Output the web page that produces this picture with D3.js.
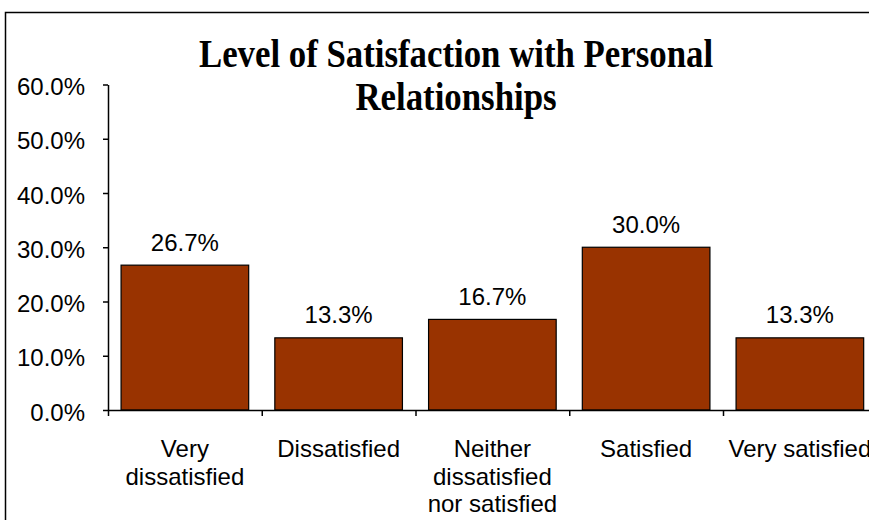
<!DOCTYPE html>
<html>
<head>
<meta charset="utf-8">
<script src="https://cdn.jsdelivr.net/npm/d3@7/dist/d3.min.js"></script>
<style>
  html, body { margin: 0; padding: 0; background: #fff; }
  svg { display: block; }
</style>
</head>
<body>
<svg id="chart" width="869" height="520"></svg>
<script>
const categories = ["Very dissatisfied", "Dissatisfied", "Neither dissatisfied nor satisfied", "Satisfied", "Very satisfied"];
const values = [0.267, 0.133, 0.167, 0.300, 0.133];
const yTicks = [0, 0.1, 0.2, 0.3, 0.4, 0.5, 0.6];
const titleLines = ["Level of Satisfaction with Personal", "Relationships"];

const svg = d3.select("#chart");
const W = 869, H = 520;
const sansFont = "'Liberation Sans', Arial, sans-serif";
const fs = 24;

svg.append("rect").attr("width", W).attr("height", H).attr("fill", "#fff");
// outer frame (extends beyond the right/bottom edges)
svg.append("rect")
  .attr("x", 5.5).attr("y", 12.5).attr("width", 1000).attr("height", 1000)
  .attr("fill", "none").attr("stroke", "#000").attr("stroke-width", 1.5);

const x = d3.scaleBand().domain(categories).range([108, 876.75])
  .paddingInner(0.17).paddingOuter(0.085);
const y = d3.scaleLinear().domain([0, 0.6]).range([410, 84.5]);

// title
const title = svg.append("g").attr("transform", "translate(456,0) scale(0.87,1)");
titleLines.forEach((t, i) => {
  title.append("text")
    .attr("x", 0).attr("y", 67 + i * 43)
    .attr("text-anchor", "middle")
    .attr("font-family", "'Liberation Serif', 'Times New Roman', serif")
    .attr("font-weight", "bold")
    .attr("font-size", 40)
    .attr("fill", "#000")
    .text(t);
});

// bars
svg.append("g").selectAll("rect").data(categories).join("rect")
  .attr("x", d => x(d))
  .attr("y", (d, i) => y(values[i]))
  .attr("width", x.bandwidth())
  .attr("height", (d, i) => y(0) - y(values[i]))
  .attr("fill", "#993300")
  .attr("stroke", "#000")
  .attr("stroke-width", 1.2);

// value labels
svg.append("g").selectAll("text").data(categories).join("text")
  .attr("x", d => x(d) + x.bandwidth() / 2)
  .attr("y", (d, i) => y(values[i]) - 14.5)
  .attr("text-anchor", "middle")
  .attr("font-family", sansFont)
  .attr("font-size", fs)
  .attr("fill", "#000")
  .text((d, i) => d3.format(".1%")(values[i]));

// y axis
const yAxis = d3.axisLeft(y).tickValues(yTicks).tickFormat(d3.format(".1%"))
  .tickSize(5).tickSizeOuter(0).tickPadding(18);
const gy = svg.append("g").attr("transform", "translate(108,0)").call(yAxis);
gy.selectAll("path, line").attr("stroke", "#000").attr("stroke-width", 1.5);
gy.selectAll("text")
  .attr("font-family", sansFont).attr("font-size", fs).attr("fill", "#000")
  .attr("dy", null).attr("dominant-baseline", null)
  .attr("y", 10);

// x axis (ticks at category boundaries)
const step = x.step();
const xb = d3.scaleLinear().domain([0, categories.length]).range([108, 108 + step * categories.length]);
const xAxis = d3.axisBottom(xb).tickValues(d3.range(categories.length + 1)).tickFormat("")
  .tickSize(6).tickSizeOuter(0);
const gx = svg.append("g").attr("transform", "translate(0,410)").call(xAxis);
gx.selectAll("path, line").attr("stroke", "#000").attr("stroke-width", 1.5);

// category labels with wrapping
const ctx = document.createElement("canvas").getContext("2d");
ctx.font = fs + "px 'Liberation Sans', Arial, sans-serif";
function wrap(str, maxW) {
  const words = str.split(" ");
  const lines = [];
  let cur = "";
  words.forEach(w => {
    const t = cur ? cur + " " + w : w;
    if (ctx.measureText(t).width > maxW && cur) { lines.push(cur); cur = w; }
    else cur = t;
  });
  if (cur) lines.push(cur);
  return lines;
}
const gl = svg.append("g");
categories.forEach(c => {
  const lines = wrap(c, step - 2);
  const t = gl.append("text")
    .attr("text-anchor", "middle")
    .attr("font-family", sansFont).attr("font-size", fs).attr("fill", "#000");
  lines.forEach((ln, i) => {
    t.append("tspan").attr("x", x(c) + x.bandwidth() / 2).attr("y", 457 + i * 27.5).text(ln);
  });
});
</script>
</body>
</html>
